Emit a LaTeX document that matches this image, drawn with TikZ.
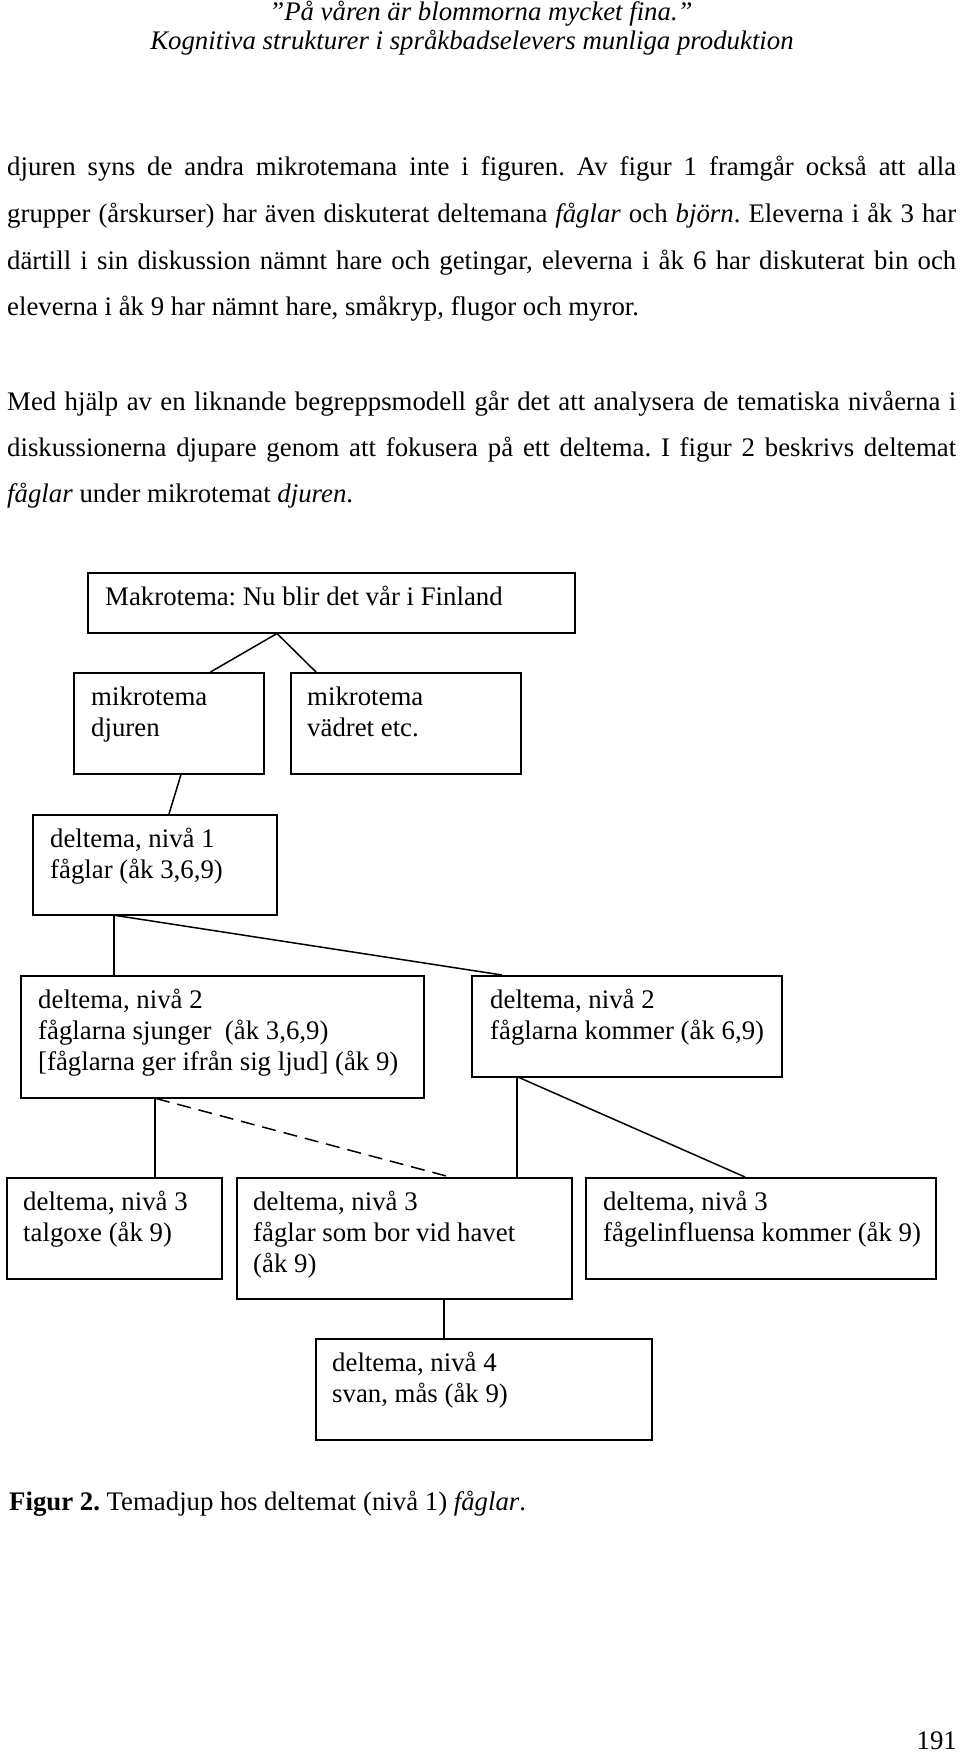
\documentclass[tikz,border=0pt]{standalone}
\usepackage{fontspec}
\setmainfont{Liberation Serif}
\usetikzlibrary{calc}
\frenchspacing
\newcommand\myfs{\fontsize{26.8pt}{31pt}\selectfont}
\newcommand\mylines[1]{\begin{tabular}[t]{@{}l@{}}#1\end{tabular}}
\begin{document}
\frenchspacing
\begin{tikzpicture}[x=1pt,y=-1pt,
  box/.style={draw, line width=1.5pt, rectangle, inner sep=0pt, anchor=north west},
  txt/.style={anchor=base west, inner sep=0pt, font=\myfs},
  hdr/.style={anchor=base, inner sep=0pt, font=\myfs\itshape},
  conn/.style={line width=1.5pt},
  dconn/.style={line width=1.5pt, dash pattern=on 14pt off 8pt}]
\useasboundingbox (0,0) rectangle (960,1752);

% header
\node[hdr] (h1) at (481,21) {”På våren är blommorna mycket fina.”};
\node[hdr] (h2) at (472,50) {Kognitiva strukturer i språkbadselevers munliga produktion};

% paragraph 1
\node[txt] (p1a) at (7,176) {\makebox[949pt][s]{djuren syns de andra mikrotemana inte i figuren. Av figur 1 framgår också att alla}};
\node[txt] (p1b) at (7,223) {\makebox[949pt][s]{grupper (årskurser) har även diskuterat deltemana \textit{fåglar} och \textit{björn}. Eleverna i åk 3 har}};
\node[txt] (p1c) at (7,269.5) {\makebox[949pt][s]{därtill i sin diskussion nämnt hare och getingar, eleverna i åk 6 har diskuterat bin och}};
\node[txt] (p1d) at (7,316) {eleverna i åk 9 har nämnt hare, småkryp, flugor och myror.};

% paragraph 2
\node[txt] (p2a) at (7,410) {\makebox[949pt][s]{Med hjälp av en liknande begreppsmodell går det att analysera de tematiska nivåerna i}};
\node[txt] (p2b) at (7,456) {\makebox[949pt][s]{diskussionerna djupare genom att fokusera på ett deltema. I figur 2 beskrivs deltemat}};
\node[txt] (p2c) at (7,502) {\textit{fåglar} under mikrotemat \textit{djuren}.};

% boxes
\node[box, minimum width=487pt, minimum height=60pt] (mak) at (87,572) {};
\node[box, minimum width=190pt, minimum height=101pt] (dj) at (73,672) {};
\node[box, minimum width=230pt, minimum height=101pt] (va) at (290,672) {};
\node[box, minimum width=244pt, minimum height=100pt] (n1) at (32,814) {};
\node[box, minimum width=403pt, minimum height=122pt] (n2l) at (20,975) {};
\node[box, minimum width=310pt, minimum height=101pt] (n2r) at (471,975) {};
\node[box, minimum width=215pt, minimum height=101pt] (t3a) at (6,1177) {};
\node[box, minimum width=335pt, minimum height=121pt] (t3b) at (236,1177) {};
\node[box, minimum width=350pt, minimum height=101pt] (t3c) at (585,1177) {};
\node[box, minimum width=336pt, minimum height=101pt] (n4) at (315,1338) {};

% box texts
\node[txt] (makt) at (105,605) {Makrotema: Nu blir det vår i Finland};
\node[txt] (djt) at (91,705) {\mylines{mikrotema\\djuren}};
\node[txt] (vat) at (307,705) {\mylines{mikrotema\\vädret etc.}};
\node[txt] (n1t) at (50,847) {\mylines{deltema, nivå 1\\fåglar (åk 3,6,9)}};
\node[txt] (n2lt) at (38,1008) {\mylines{deltema, nivå 2\\fåglarna sjunger\ \ (åk 3,6,9)\\{[fåglarna ger ifrån sig ljud]} (åk 9)}};
\node[txt] (n2rt) at (490,1008) {\mylines{deltema, nivå 2\\fåglarna kommer (åk 6,9)}};
\node[txt] (t3at) at (23,1210) {\mylines{deltema, nivå 3\\talgoxe (åk 9)}};
\node[txt] (t3bt) at (253,1210) {\mylines{deltema, nivå 3\\fåglar som bor vid havet\\(åk 9)}};
\node[txt] (t3ct) at (603,1210) {\mylines{deltema, nivå 3\\fågelinfluensa kommer (åk 9)}};
\node[txt] (n4t) at (332,1371) {\mylines{deltema, nivå 4\\svan, mås (åk 9)}};

% connectors
\draw[conn] ([xshift=137.5pt]dj.north west) -- ([xshift=190pt]mak.south west) -- ([xshift=26pt]va.north west);
\draw[conn] ([xshift=108pt]dj.south west) -- ([xshift=137pt]n1.north west);
\draw[conn] ([xshift=82pt]n1.south west) -- ([xshift=94pt]n2l.north west);
\draw[conn] ([xshift=84pt]n1.south west) -- ([xshift=31pt]n2r.north west);
\draw[conn] ([xshift=135pt]n2l.south west) -- ([xshift=149pt]t3a.north west);
\draw[dconn] ([xshift=136pt]n2l.south west) -- ([xshift=214pt]t3b.north west);
\draw[conn] ([xshift=46pt]n2r.south west) -- ([xshift=281pt]t3b.north west);
\draw[conn] ([xshift=48pt]n2r.south west) -- ([xshift=160pt]t3c.north west);
\draw[conn] ([xshift=208pt]t3b.south west) -- ([xshift=129pt]n4.north west);

% caption and page number
\node[txt] (cap) at (9,1510) {\textbf{Figur 2.} Temadjup hos deltemat (nivå 1) \textit{fåglar}.};
\node[anchor=base east, inner sep=0pt, font=\myfs] (pg) at (957,1749) {191};
\end{tikzpicture}
\end{document}
